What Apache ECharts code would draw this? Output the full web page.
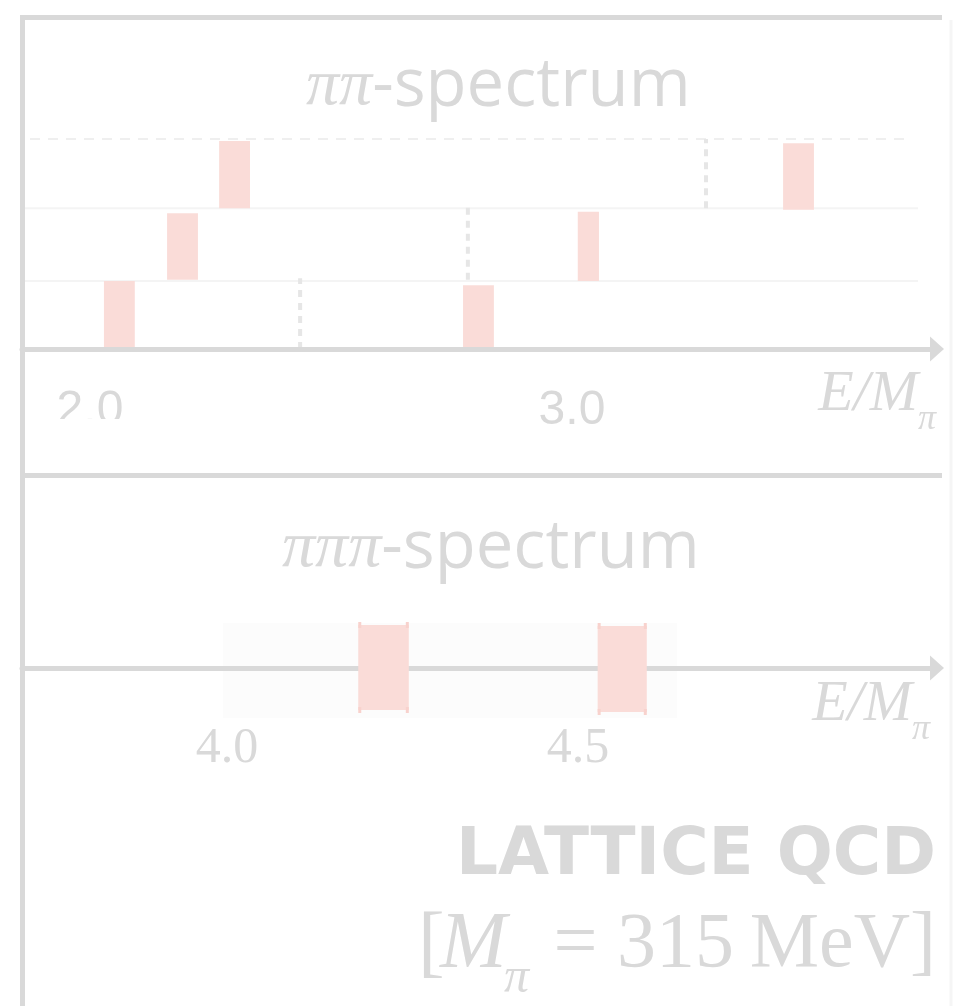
<!DOCTYPE html>
<html><head><meta charset="utf-8">
<script src="https://cdn.jsdelivr.net/npm/echarts@6/dist/echarts.min.js"></script>
<style>html,body{margin:0;padding:0;background:#fff}#c{width:963px;height:1006px}</style>
</head><body><div id="c"></div>
<script>
// ---------- data ----------
// ππ spectrum: energy levels E/Mπ, half-width of the band, vertical extent (row units)
const ppTickLabels = [2.0, 3.0];
const ppLevelE    = [2.061, 2.192, 2.300, 2.806, 3.034, 3.470];
const ppLevelErr  = [0.032, 0.032, 0.032, 0.032, 0.022, 0.032];
const ppLevelLow  = [0.00, 0.99, 2.01, 0.00, 0.97, 1.99];
const ppLevelHigh = [0.97, 1.94, 2.97, 0.91, 1.96, 2.94];
// thresholds (dashed verticals)
const ppThreshE    = [2.436, 2.784, 3.278];
const ppThreshLow  = [0.00, 0.99, 2.01];
const ppThreshHigh = [1.01, 2.03, 3.00];
// row separators
const ppRowLines = [0.97, 2.01, 3.00];
const ppRowDashed = [false, false, true];

// πππ spectrum
const pppTickLabels = [4.0, 4.5];
const pppLevelE    = [4.223, 4.563];
const pppLevelErr  = [0.036, 0.035];
const pppLevelLow  = [-0.84, -0.88];
const pppLevelHigh = [0.86, 0.84];
const pppBandE = [3.994, 4.641];
const pppBandY = [-1.0, 0.9];

// ---------- styles ----------
const GRAY = '#d9d9d9';
const PINK = '#fadcd8';
const PINK_EDGE = '#f8d2cd';
const SERIF = '"Liberation Serif","DejaVu Serif",serif';
const SANS = '"Open Sans",Lato,"Liberation Sans",sans-serif';

const chart = echarts.init(document.getElementById('c'), null, {renderer: 'canvas'});

const levelData = (E, err, lo, hi) => E.map((e, i) => [e, err[i], lo[i], hi[i]]);

function renderLevel(caps) {
  return function (params, api) {
    const e = api.value(0), err = api.value(1), lo = api.value(2), hi = api.value(3);
    const p0 = api.coord([e - err, hi]);
    const p1 = api.coord([e + err, lo]);
    const children = [{
      type: 'rect',
      shape: {x: p0[0], y: p0[1], width: p1[0] - p0[0], height: p1[1] - p0[1]},
      style: {fill: PINK}
    }];
    if (caps) {
      [p0[0] + 1.5, p1[0] - 1.5].forEach(x => {
        children.push({type: 'line', shape: {x1: x, y1: p0[1] - 3, x2: x, y2: p0[1] + 3}, style: {stroke: PINK_EDGE, lineWidth: 3}});
        children.push({type: 'line', shape: {x1: x, y1: p1[1] - 3, x2: x, y2: p1[1] + 3}, style: {stroke: PINK_EDGE, lineWidth: 3}});
      });
    }
    return {type: 'group', children};
  };
}

const titleRich = {
  p: {fontFamily: SERIF, fontStyle: 'italic', fontWeight: 'normal', fontSize: 66, color: GRAY},
  s: {fontFamily: SANS, fontWeight: 500, fontSize: 67, color: GRAY}
};

const option = {
  animation: false,
  backgroundColor: '#ffffff',
  title: [
    {text: '{p|ππ}{s|-spectrum}', left: 301, top: 48, textStyle: {rich: titleRich}},
    {text: '{p|πππ}{s|-spectrum}', left: 277, top: 510, textStyle: {rich: titleRich}}
  ],
  grid: [
    {left: 22, width: 911, top: 139, height: 210},
    {left: 22, width: 911, top: 618, height: 100}
  ],
  xAxis: [
    {
      gridIndex: 0, type: 'value', min: 1.859, max: 3.749, z: 5,
      axisLine: {show: true, lineStyle: {color: GRAY, width: 5}, symbol: ['none', 'triangle'], symbolSize: [25, 14], symbolOffset: [0, 4]},
      axisTick: {show: false}, splitLine: {show: false},
      axisLabel: {customValues: ppTickLabels, formatter: v => v.toFixed(1), color: GRAY, fontSize: 48, fontFamily: '"Liberation Sans",Arial,sans-serif', margin: 38}
    },
    {
      gridIndex: 1, type: 'value', min: 3.708, max: 5.0057, z: 1,
      axisLine: {show: true, onZero: true, lineStyle: {color: GRAY, width: 5}, symbol: ['none', 'triangle'], symbolSize: [25, 14], symbolOffset: [0, 4]},
      axisTick: {show: false}, splitLine: {show: false},
      axisLabel: {customValues: pppTickLabels, formatter: v => v.toFixed(1), color: GRAY, fontSize: 50, fontFamily: SERIF, margin: 6}
    }
  ],
  yAxis: [
    {gridIndex: 0, type: 'value', min: 0, max: 3, show: false},
    {gridIndex: 1, type: 'value', min: -1, max: 1, show: false}
  ],
  series: [
    // row separators
    {
      type: 'custom', xAxisIndex: 0, yAxisIndex: 0, clip: false, z: 1,
      data: ppRowLines.map((y, i) => [y, ppRowDashed[i] ? 1 : 0]),
      renderItem: (params, api) => {
        const cs = params.coordSys;
        const y = api.coord([0, api.value(0)])[1];
        const dashed = api.value(1) === 1;
        return {type: 'line',
          shape: {x1: cs.x + (dashed ? 8 : 0), y1: y, x2: cs.x + cs.width - (dashed ? 23 : 15), y2: y},
          style: {stroke: dashed ? '#efefef' : '#f4f4f4', lineWidth: 2, lineDash: dashed ? [10, 8] : null}};
      }
    },
    // thresholds
    {
      type: 'custom', xAxisIndex: 0, yAxisIndex: 0, clip: false, z: 1,
      data: ppThreshE.map((e, i) => [e, ppThreshLow[i], ppThreshHigh[i]]),
      renderItem: (params, api) => {
        const a = api.coord([api.value(0), api.value(1)]);
        const b = api.coord([api.value(0), api.value(2)]);
        return {type: 'line', shape: {x1: a[0], y1: a[1], x2: b[0], y2: b[1]},
          style: {stroke: '#e6e6e6', lineWidth: 4, lineDash: [7, 6]}};
      }
    },
    // ππ levels
    {
      type: 'custom', xAxisIndex: 0, yAxisIndex: 0, clip: false, z: 2,
      data: levelData(ppLevelE, ppLevelErr, ppLevelLow, ppLevelHigh),
      renderItem: renderLevel(false)
    },
    // πππ shaded band
    {
      type: 'custom', xAxisIndex: 1, yAxisIndex: 1, clip: false, z: 0,
      data: [[pppBandE[0], pppBandE[1], pppBandY[0], pppBandY[1]]],
      renderItem: (params, api) => {
        const p0 = api.coord([api.value(0), api.value(3)]);
        const p1 = api.coord([api.value(1), api.value(2)]);
        return {type: 'rect', shape: {x: p0[0], y: p0[1], width: p1[0] - p0[0], height: p1[1] - p0[1]}, style: {fill: '#fcfcfc'}};
      }
    },
    // πππ levels
    {
      type: 'custom', xAxisIndex: 1, yAxisIndex: 1, clip: false, z: 3,
      data: levelData(pppLevelE, pppLevelErr, pppLevelLow, pppLevelHigh),
      renderItem: renderLevel(true)
    }
  ],
  graphic: [
    // frame
    {type: 'line', shape: {x1: 20, y1: 17.5, x2: 942, y2: 17.5}, style: {stroke: GRAY, lineWidth: 5}, z: 10},
    {type: 'line', shape: {x1: 22.5, y1: 15, x2: 22.5, y2: 1006}, style: {stroke: GRAY, lineWidth: 5}, z: 10},
    {type: 'line', shape: {x1: 20, y1: 475.5, x2: 942, y2: 475.5}, style: {stroke: GRAY, lineWidth: 5}, z: 10},
    {type: 'line', shape: {x1: 951, y1: 20, x2: 951, y2: 1006}, style: {stroke: '#f5f5f5', lineWidth: 3}, z: 10},
    // partial cover of the "2.0" label (cut off in the reference)
    {type: 'rect', shape: {x: 30, y: 419, width: 130, height: 40}, style: {fill: '#ffffff'}, z: 20},
    // axis names
    {type: 'text', x: 918, y: 424, style: {text: 'E/M', font: 'italic 58px ' + SERIF, fill: GRAY, align: 'right', verticalAlign: 'bottom'}, z: 10},
    {type: 'text', x: 918, y: 438, style: {text: 'π', font: 'italic 36px ' + SERIF, fill: GRAY, align: 'left', verticalAlign: 'bottom'}, z: 10},
    {type: 'text', x: 912, y: 734, style: {text: 'E/M', font: 'italic 58px ' + SERIF, fill: GRAY, align: 'right', verticalAlign: 'bottom'}, z: 10},
    {type: 'text', x: 912, y: 748, style: {text: 'π', font: 'italic 36px ' + SERIF, fill: GRAY, align: 'left', verticalAlign: 'bottom'}, z: 10},
    // annotation
    {type: 'text', x: 936, y: 857, style: {text: 'LATTICE QCD', font: 'bold 66px "DejaVu Sans",sans-serif', fill: GRAY, align: 'right', verticalAlign: 'middle'}, z: 10},
    {type: 'text', x: 418, y: 986, style: {text: '[', font: '80px ' + SERIF, fill: GRAY, align: 'left', verticalAlign: 'bottom'}, z: 10},
    {type: 'text', x: 440, y: 986, style: {text: 'M', font: 'italic 80px ' + SERIF, fill: GRAY, align: 'left', verticalAlign: 'bottom'}, z: 10},
    {type: 'text', x: 504, y: 1004, style: {text: 'π', font: 'italic 50px ' + SERIF, fill: GRAY, align: 'left', verticalAlign: 'bottom'}, z: 10},
    {type: 'text', x: 936, y: 985, style: {text: '= 315\u2009MeV]', font: '78px ' + SERIF, fill: GRAY, align: 'right', verticalAlign: 'bottom'}, z: 10}
  ]
};
chart.setOption(option);
</script>
</body></html>
